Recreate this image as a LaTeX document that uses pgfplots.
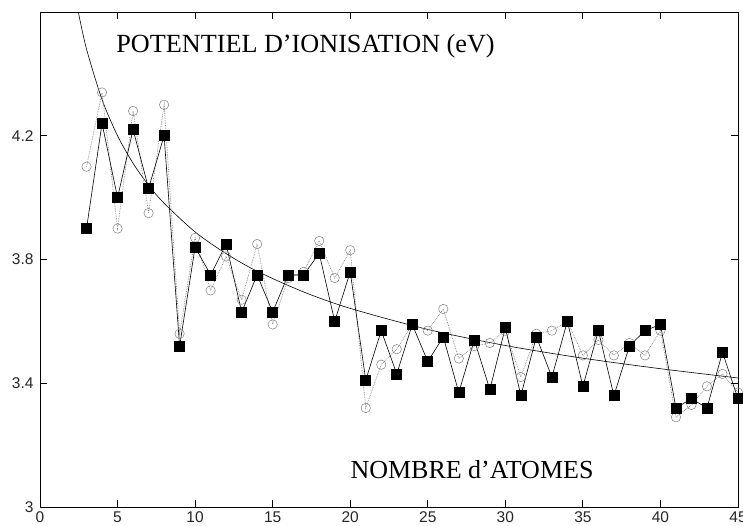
\documentclass[border=0pt]{standalone}
\usepackage{fontspec}
\setmainfont{Liberation Serif}
\setsansfont{Liberation Sans}
\usepackage{pgfplots}
\pgfplotsset{compat=1.18}

% filled squares (solid line)
\pgfplotstableread{
n  ip
3  3.90
4  4.24
5  4.00
6  4.22
7  4.03
8  4.20
9  3.52
10 3.84
11 3.75
12 3.85
13 3.63
14 3.75
15 3.63
16 3.75
17 3.75
18 3.82
19 3.60
20 3.76
21 3.41
22 3.57
23 3.43
24 3.59
25 3.47
26 3.55
27 3.37
28 3.54
29 3.38
30 3.58
31 3.36
32 3.55
33 3.42
34 3.60
35 3.39
36 3.57
37 3.36
38 3.52
39 3.57
40 3.59
41 3.32
42 3.35
43 3.32
44 3.50
45 3.35
}\squares

% open circles (dotted line)
\pgfplotstableread{
n  ip
3  4.10
4  4.34
5  3.90
6  4.28
7  3.95
8  4.30
9  3.56
10 3.87
11 3.70
12 3.81
13 3.67
14 3.85
15 3.59
16 3.74
17 3.76
18 3.86
19 3.74
20 3.83
21 3.32
22 3.46
23 3.51
24 3.59
25 3.57
26 3.64
27 3.48
28 3.52
29 3.53
30 3.57
31 3.42
32 3.56
33 3.57
34 3.60
35 3.49
36 3.54
37 3.49
38 3.53
39 3.49
40 3.57
41 3.29
42 3.33
43 3.39
44 3.43
45 3.37
}\circles

% smooth trend curve
\pgfplotstableread{
n    ip
2.47 4.600
3    4.480
4    4.317
5    4.200
6    4.111
7    4.040
8    3.982
10   3.889
12   3.819
14   3.762
17   3.695
20   3.642
25   3.574
30   3.522
35   3.481
40   3.447
45   3.417
}\trend

\begin{document}
\begin{tikzpicture}[x=1pt,y=1pt]
\path[use as bounding box] (0,0) rectangle (743,526);
\begin{axis}[
    at={(40pt,19pt)}, anchor=south west,
    scale only axis,
    width=698pt, height=495pt,
    xmin=0, xmax=45,
    ymin=3, ymax=4.6,
    xtick={0,5,...,45},
    ytick={3,3.4,3.8,4.2},
    yticklabels={3,3.4,3.8,4.2},
    tick align=inside,
    major tick length=7pt,
    axis line style={line width=0.9pt},
    tick style={black, line width=0.8pt},
    /pgf/number format/assume math mode=true,
    tick label style={font=\sffamily\fontsize{15.5}{15.5}\selectfont, black!85},
    yticklabel style={xshift=-3pt},
    xticklabel style={yshift=-1pt},
    clip=true,
]
\addplot[black, line width=0.6pt, smooth, no marks] table[x=n,y=ip] {\trend};
\addplot[gray, densely dotted, line width=0.7pt,
    mark=o, mark size=4.7pt, mark options={solid, gray, line width=0.5pt}]
    table[x=n,y=ip] {\circles};
\addplot[black, line width=0.6pt,
    mark=square*, mark size=5pt, mark options={solid, black}]
    table[x=n,y=ip] {\squares};
\node[font=\fontsize{26.2}{26.2}\selectfont] at (axis cs:17.12,4.49) {POTENTIEL D’IONISATION (eV)};
\node[font=\fontsize{26}{26}\selectfont] at (axis cs:27.85,3.12) {NOMBRE d’ATOMES};
\end{axis}
\end{tikzpicture}
\end{document}
